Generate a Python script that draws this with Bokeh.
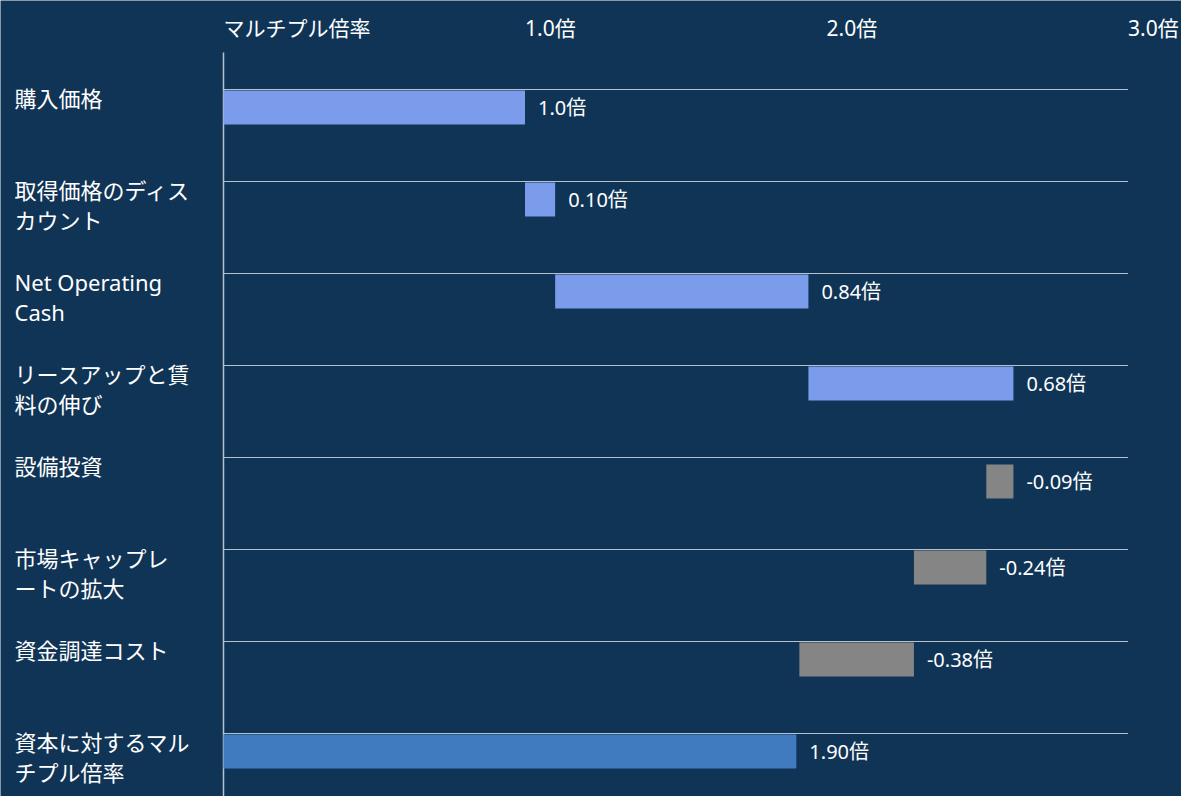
from bokeh.plotting import figure
from bokeh.models import Range1d, ColumnDataSource
from bokeh.core.properties import value
from bokeh.embed import file_html
from bokeh.resources import INLINE

# ---------------- data ----------------
categories = ["購入価格", "取得価格のディスカウント", "Net Operating Cash",
              "リースアップと賃料の伸び", "設備投資", "市場キャップレートの拡大",
              "資金調達コスト", "資本に対するマルチプル倍率"]
category_labels = ["購入価格", "取得価格のディス\nカウント", "Net Operating\nCash",
                   "リースアップと賃\n料の伸び", "設備投資", "市場キャップレ\nートの拡大",
                   "資金調達コスト", "資本に対するマル\nチプル倍率"]
step_values = [1.0, 0.10, 0.84, 0.68, -0.09, -0.24, -0.38]
total_value = 1.90
value_labels = ["1.0倍", "0.10倍", "0.84倍", "0.68倍", "-0.09倍", "-0.24倍", "-0.38倍", "1.90倍"]
tick_values = [0, 1, 2, 3]
tick_labels = ["マルチプル倍率", "1.0倍", "2.0倍", "3.0倍"]

# ---------------- styles / layout ----------------
BG = "#103456"
POS = "#7b9beb"
NEG = "#858585"
TOT = "#407bbf"
GRID = "#b9c2cc"
FONT = "Noto Sans, Noto Sans CJK JP"

W, H = 1181, 796
ZERO_PX = 223.0        # px of x=0 from left
PPU = 301.5            # px per unit
FIRST_LINE = 89.0      # px of first gridline from top
BAND = 92.0            # px per category
BAR_PX = 34.0
TICK_ROW_PX = 27.0     # centre of top tick labels
AXIS_TOP_PX = 52.0     # top of the vertical zero line
nudge_px = [1, 1, 1, 1, 7, 1, 1, 1]

x_range = Range1d(-ZERO_PX / PPU, (W - ZERO_PX) / PPU)
y_bottom = (H - FIRST_LINE) / BAND
y_range = Range1d(y_bottom, -FIRST_LINE / BAND)

p = figure(width=W, height=H, x_range=x_range, y_range=y_range,
           output_backend="svg", toolbar_location=None,
           x_axis_location=None, y_axis_location=None,
           min_border=0, background_fill_color=BG,
           border_fill_color=BG, outline_line_color=None)
p.grid.visible = False

# cumulative waterfall positions
lefts, rights, colors = [], [], []
run = 0.0
for v in step_values:
    a, b = run, run + v
    lefts.append(min(a, b))
    rights.append(max(a, b))
    colors.append(POS if v >= 0 else NEG)
    run = b
lefts.append(0.0)
rights.append(total_value)
colors.append(TOT)

n = len(categories)
idx = list(range(n))
tops = [i + nudge_px[i] / BAND for i in idx]
bottoms = [t + BAR_PX / BAND for t in tops]
centers = [(t + b) / 2 for t, b in zip(tops, bottoms)]

# horizontal gridlines per category
p.segment(x0=[tick_values[0]] * n, x1=[tick_values[-1]] * n, y0=idx, y1=idx,
          line_color=GRID, line_width=1.2)

# vertical zero line
p.segment(x0=[0], x1=[0], y0=[(AXIS_TOP_PX - FIRST_LINE) / BAND], y1=[y_bottom],
          line_color=GRID, line_width=1.5)

src = ColumnDataSource(dict(left=lefts, right=rights, top=tops, bottom=bottoms,
                            color=colors, yc=centers, lab=value_labels))
p.quad(left="left", right="right", top="top", bottom="bottom",
       fill_color="color", line_color=None, source=src)

p.text(x="right", y="yc", text="lab", source=src, x_offset=13,
       text_font=value(FONT), text_font_size="20px", text_color="white",
       text_align="left", text_baseline="middle")

# category labels
p.text(x=[0] * n, y=idx, text=category_labels, x_offset=-ZERO_PX + 14, y_offset=-7,
       text_font=value(FONT), text_font_size="22px", text_color="white",
       text_align="left", text_baseline="top", text_line_height=1.02)

# top tick labels (left aligned at tick positions)
tick_y = (TICK_ROW_PX - FIRST_LINE) / BAND
p.text(x=tick_values, y=[tick_y] * len(tick_values), text=tick_labels,
       text_font=value(FONT), text_font_size="21px", text_color="white",
       text_align="left", text_baseline="middle")

open("out.html", "w").write(file_html(p, INLINE))
